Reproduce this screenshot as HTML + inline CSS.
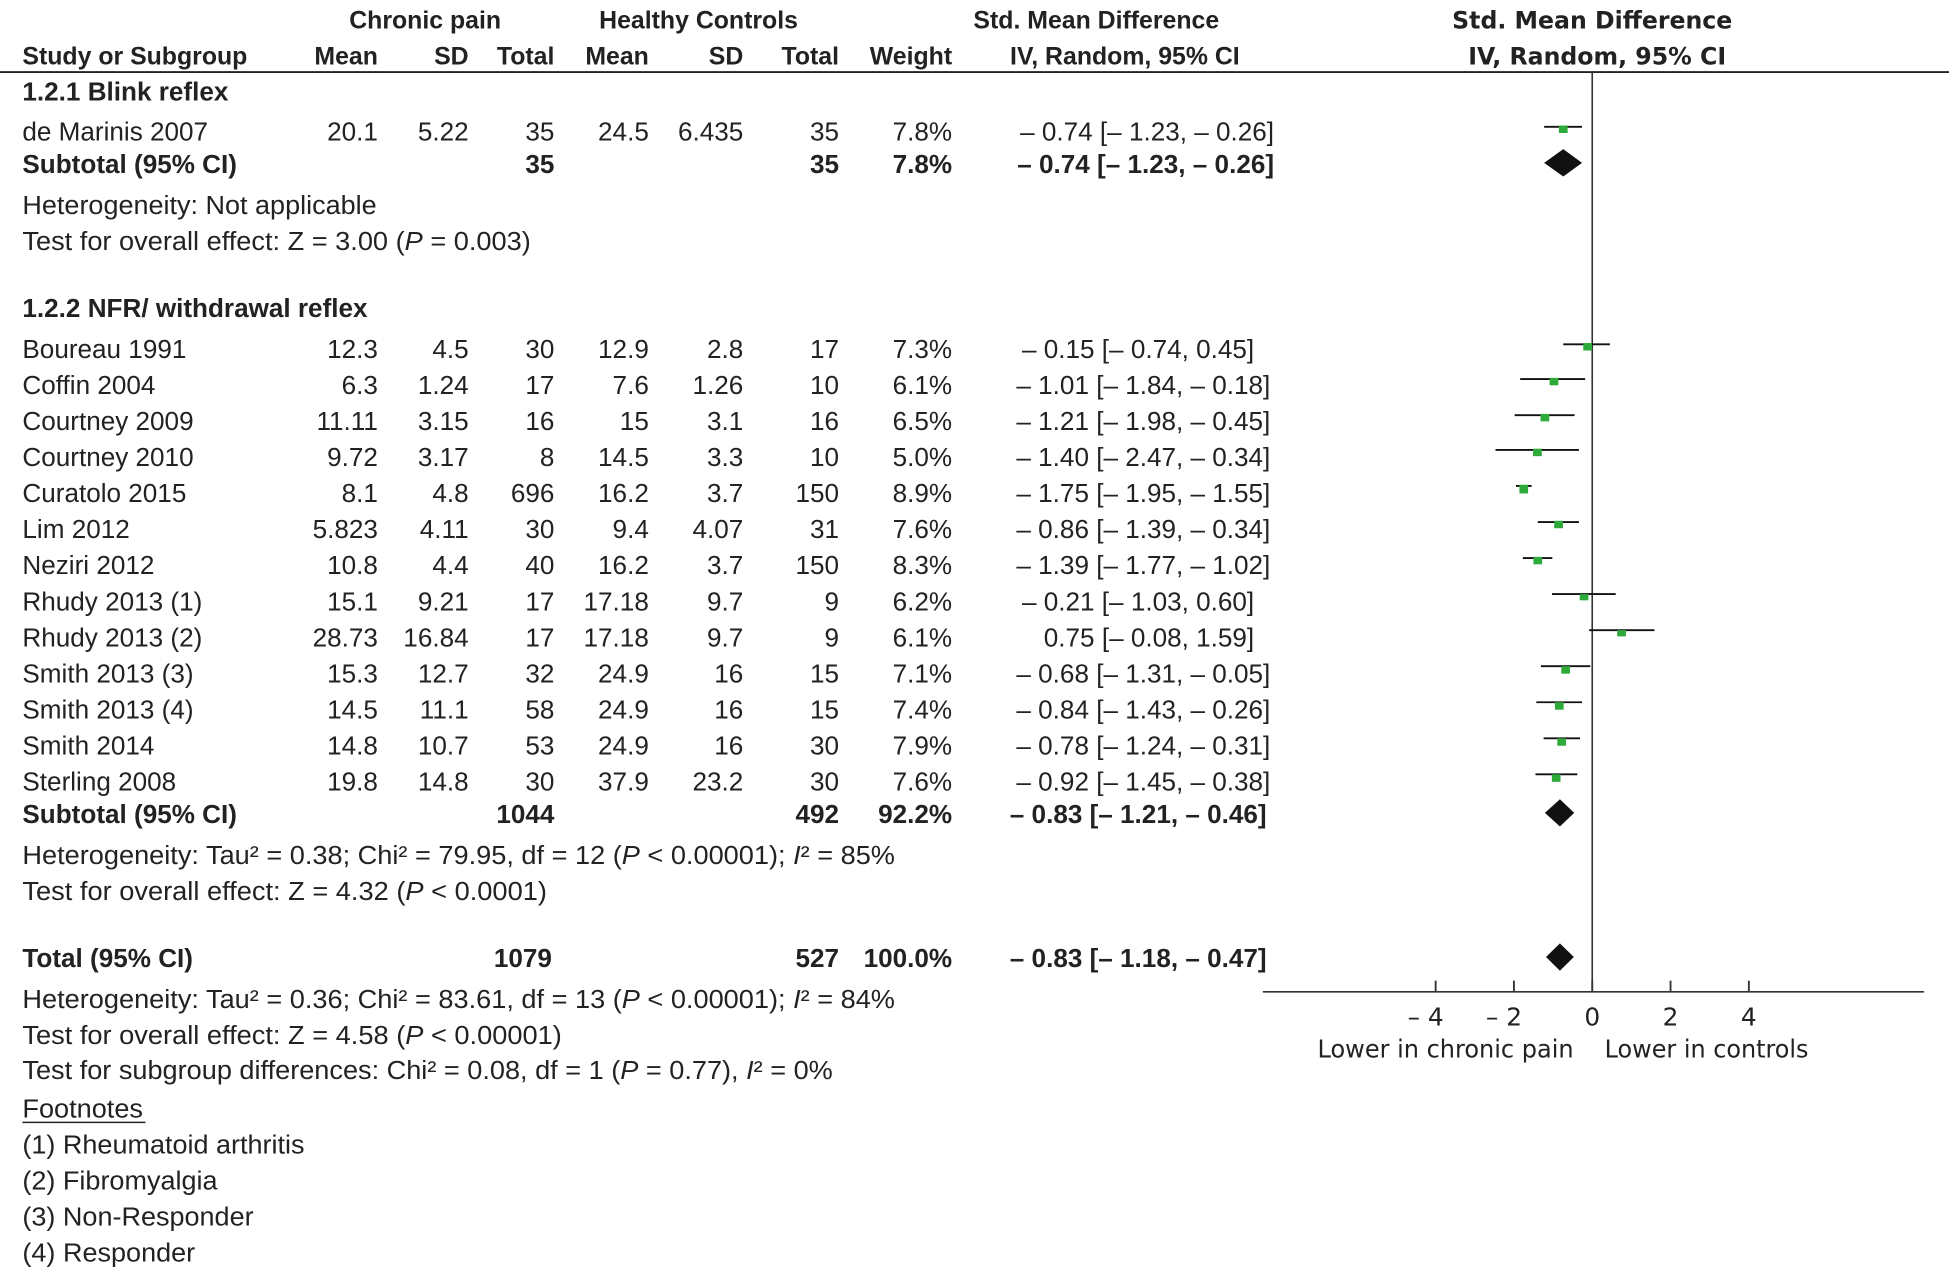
<!DOCTYPE html>
<html><head><meta charset="utf-8"><style>
html,body{margin:0;padding:0;background:#fff;}
svg{display:block;}
text{font-family:"Liberation Sans",sans-serif;fill:#222;}
.h{font-weight:bold;font-size:20px;}
.n{font-size:21px;}
.b{font-size:21px;font-weight:bold;}
.r{font-family:"DejaVu Sans","Liberation Sans",sans-serif;font-weight:bold;font-size:19px;}
.t{font-family:"DejaVu Sans","Liberation Sans",sans-serif;font-size:20px;}
</style></head><body>
<svg width="1949" height="1274" viewBox="0 0 1568 1025" xmlns="http://www.w3.org/2000/svg">
<g class="h">
<text x="342" y="23" text-anchor="middle" class="h">Chronic pain</text>
<text x="562" y="23" text-anchor="middle" class="h">Healthy Controls</text>
<text x="882" y="23" text-anchor="middle" class="h">Std. Mean Difference</text>
<text x="18" y="52" class="h">Study or Subgroup</text>
<text x="304" y="52" text-anchor="end" class="h">Mean</text>
<text x="377" y="52" text-anchor="end" class="h">SD</text>
<text x="446" y="52" text-anchor="end" class="h">Total</text>
<text x="522" y="52" text-anchor="end" class="h">Mean</text>
<text x="598" y="52" text-anchor="end" class="h">SD</text>
<text x="675" y="52" text-anchor="end" class="h">Total</text>
<text x="766" y="52" text-anchor="end" class="h">Weight</text>
<text x="905" y="52" text-anchor="middle" class="h">IV, Random, 95% CI</text>
</g>
<text x="1281" y="23" text-anchor="middle" class="r">Std. Mean Difference</text>
<text x="1285" y="52" text-anchor="middle" class="r">IV, Random, 95% CI</text>
<line x1="0" y1="58" x2="1568" y2="58" stroke="#222" stroke-width="1.5"/>

<text x="18" y="81" class="b">1.2.1 Blink reflex</text>
<g class="n">
<text x="18" y="113" class="n">de Marinis 2007</text>
<text x="304" y="113" text-anchor="end" class="n">20.1</text>
<text x="377" y="113" text-anchor="end" class="n">5.22</text>
<text x="446" y="113" text-anchor="end" class="n">35</text>
<text x="522" y="113" text-anchor="end" class="n">24.5</text>
<text x="598" y="113" text-anchor="end" class="n">6.435</text>
<text x="675" y="113" text-anchor="end" class="n">35</text>
<text x="766" y="113" text-anchor="end" class="n">7.8%</text>
<text x="1025" y="113" text-anchor="end" class="n">– 0.74 [– 1.23, – 0.26]</text>
</g>
<text x="18" y="139" class="b">Subtotal (95% CI)</text>
<text x="446" y="139" text-anchor="end" class="b">35</text>
<text x="675" y="139" text-anchor="end" class="b">35</text>
<text x="766" y="139" text-anchor="end" class="b">7.8%</text>
<text x="1025" y="139" text-anchor="end" class="b">– 0.74 [– 1.23, – 0.26]</text>
<text x="18" y="172" class="n" textLength="285" lengthAdjust="spacingAndGlyphs">Heterogeneity: Not applicable</text>
<text x="18" y="201" class="n" textLength="409" lengthAdjust="spacingAndGlyphs">Test for overall effect: Z = 3.00 (<tspan font-style="italic">P</tspan> = 0.003)</text>

<text x="18" y="255" class="b">1.2.2 NFR/ withdrawal reflex</text>

<g class="n">
<text x="18" y="288">Boureau 1991</text><text x="304" y="288" text-anchor="end">12.3</text><text x="377" y="288" text-anchor="end">4.5</text><text x="446" y="288" text-anchor="end">30</text><text x="522" y="288" text-anchor="end">12.9</text><text x="598" y="288" text-anchor="end">2.8</text><text x="675" y="288" text-anchor="end">17</text><text x="766" y="288" text-anchor="end">7.3%</text><text x="1009" y="288" text-anchor="end">– 0.15 [– 0.74, 0.45]</text>
<text x="18" y="317">Coffin 2004</text><text x="304" y="317" text-anchor="end">6.3</text><text x="377" y="317" text-anchor="end">1.24</text><text x="446" y="317" text-anchor="end">17</text><text x="522" y="317" text-anchor="end">7.6</text><text x="598" y="317" text-anchor="end">1.26</text><text x="675" y="317" text-anchor="end">10</text><text x="766" y="317" text-anchor="end">6.1%</text><text x="1022" y="317" text-anchor="end">– 1.01 [– 1.84, – 0.18]</text>
<text x="18" y="346">Courtney 2009</text><text x="304" y="346" text-anchor="end">11.11</text><text x="377" y="346" text-anchor="end">3.15</text><text x="446" y="346" text-anchor="end">16</text><text x="522" y="346" text-anchor="end">15</text><text x="598" y="346" text-anchor="end">3.1</text><text x="675" y="346" text-anchor="end">16</text><text x="766" y="346" text-anchor="end">6.5%</text><text x="1022" y="346" text-anchor="end">– 1.21 [– 1.98, – 0.45]</text>
<text x="18" y="375">Courtney 2010</text><text x="304" y="375" text-anchor="end">9.72</text><text x="377" y="375" text-anchor="end">3.17</text><text x="446" y="375" text-anchor="end">8</text><text x="522" y="375" text-anchor="end">14.5</text><text x="598" y="375" text-anchor="end">3.3</text><text x="675" y="375" text-anchor="end">10</text><text x="766" y="375" text-anchor="end">5.0%</text><text x="1022" y="375" text-anchor="end">– 1.40 [– 2.47, – 0.34]</text>
<text x="18" y="404">Curatolo 2015</text><text x="304" y="404" text-anchor="end">8.1</text><text x="377" y="404" text-anchor="end">4.8</text><text x="446" y="404" text-anchor="end">696</text><text x="522" y="404" text-anchor="end">16.2</text><text x="598" y="404" text-anchor="end">3.7</text><text x="675" y="404" text-anchor="end">150</text><text x="766" y="404" text-anchor="end">8.9%</text><text x="1022" y="404" text-anchor="end">– 1.75 [– 1.95, – 1.55]</text>
<text x="18" y="433">Lim 2012</text><text x="304" y="433" text-anchor="end">5.823</text><text x="377" y="433" text-anchor="end">4.11</text><text x="446" y="433" text-anchor="end">30</text><text x="522" y="433" text-anchor="end">9.4</text><text x="598" y="433" text-anchor="end">4.07</text><text x="675" y="433" text-anchor="end">31</text><text x="766" y="433" text-anchor="end">7.6%</text><text x="1022" y="433" text-anchor="end">– 0.86 [– 1.39, – 0.34]</text>
<text x="18" y="462">Neziri 2012</text><text x="304" y="462" text-anchor="end">10.8</text><text x="377" y="462" text-anchor="end">4.4</text><text x="446" y="462" text-anchor="end">40</text><text x="522" y="462" text-anchor="end">16.2</text><text x="598" y="462" text-anchor="end">3.7</text><text x="675" y="462" text-anchor="end">150</text><text x="766" y="462" text-anchor="end">8.3%</text><text x="1022" y="462" text-anchor="end">– 1.39 [– 1.77, – 1.02]</text>
<text x="18" y="491">Rhudy 2013 (1)</text><text x="304" y="491" text-anchor="end">15.1</text><text x="377" y="491" text-anchor="end">9.21</text><text x="446" y="491" text-anchor="end">17</text><text x="522" y="491" text-anchor="end">17.18</text><text x="598" y="491" text-anchor="end">9.7</text><text x="675" y="491" text-anchor="end">9</text><text x="766" y="491" text-anchor="end">6.2%</text><text x="1009" y="491" text-anchor="end">– 0.21 [– 1.03, 0.60]</text>
<text x="18" y="520">Rhudy 2013 (2)</text><text x="304" y="520" text-anchor="end">28.73</text><text x="377" y="520" text-anchor="end">16.84</text><text x="446" y="520" text-anchor="end">17</text><text x="522" y="520" text-anchor="end">17.18</text><text x="598" y="520" text-anchor="end">9.7</text><text x="675" y="520" text-anchor="end">9</text><text x="766" y="520" text-anchor="end">6.1%</text><text x="1009" y="520" text-anchor="end">0.75 [– 0.08, 1.59]</text>
<text x="18" y="549">Smith 2013 (3)</text><text x="304" y="549" text-anchor="end">15.3</text><text x="377" y="549" text-anchor="end">12.7</text><text x="446" y="549" text-anchor="end">32</text><text x="522" y="549" text-anchor="end">24.9</text><text x="598" y="549" text-anchor="end">16</text><text x="675" y="549" text-anchor="end">15</text><text x="766" y="549" text-anchor="end">7.1%</text><text x="1022" y="549" text-anchor="end">– 0.68 [– 1.31, – 0.05]</text>
<text x="18" y="578">Smith 2013 (4)</text><text x="304" y="578" text-anchor="end">14.5</text><text x="377" y="578" text-anchor="end">11.1</text><text x="446" y="578" text-anchor="end">58</text><text x="522" y="578" text-anchor="end">24.9</text><text x="598" y="578" text-anchor="end">16</text><text x="675" y="578" text-anchor="end">15</text><text x="766" y="578" text-anchor="end">7.4%</text><text x="1022" y="578" text-anchor="end">– 0.84 [– 1.43, – 0.26]</text>
<text x="18" y="607">Smith 2014</text><text x="304" y="607" text-anchor="end">14.8</text><text x="377" y="607" text-anchor="end">10.7</text><text x="446" y="607" text-anchor="end">53</text><text x="522" y="607" text-anchor="end">24.9</text><text x="598" y="607" text-anchor="end">16</text><text x="675" y="607" text-anchor="end">30</text><text x="766" y="607" text-anchor="end">7.9%</text><text x="1022" y="607" text-anchor="end">– 0.78 [– 1.24, – 0.31]</text>
<text x="18" y="636">Sterling 2008</text><text x="304" y="636" text-anchor="end">19.8</text><text x="377" y="636" text-anchor="end">14.8</text><text x="446" y="636" text-anchor="end">30</text><text x="522" y="636" text-anchor="end">37.9</text><text x="598" y="636" text-anchor="end">23.2</text><text x="675" y="636" text-anchor="end">30</text><text x="766" y="636" text-anchor="end">7.6%</text><text x="1022" y="636" text-anchor="end">– 0.92 [– 1.45, – 0.38]</text>
</g>
<g class="b">
<text x="18" y="662">Subtotal (95% CI)</text><text x="446" y="662" text-anchor="end">1044</text><text x="675" y="662" text-anchor="end">492</text><text x="766" y="662" text-anchor="end">92.2%</text><text x="1019" y="662" text-anchor="end">– 0.83 [– 1.21, – 0.46]</text>
</g>
<text x="18" y="695" class="n" textLength="702" lengthAdjust="spacingAndGlyphs">Heterogeneity: Tau² = 0.38; Chi² = 79.95, df = 12 (<tspan font-style="italic">P</tspan> &lt; 0.00001); <tspan font-style="italic">I</tspan>² = 85%</text>
<text x="18" y="724" class="n" textLength="422" lengthAdjust="spacingAndGlyphs">Test for overall effect: Z = 4.32 (<tspan font-style="italic">P</tspan> &lt; 0.0001)</text>
<g class="b">
<text x="18" y="778">Total (95% CI)</text><text x="444" y="778" text-anchor="end">1079</text><text x="675" y="778" text-anchor="end">527</text><text x="766" y="778" text-anchor="end">100.0%</text><text x="1019" y="778" text-anchor="end">– 0.83 [– 1.18, – 0.47]</text>
</g>
<text x="18" y="811" class="n" textLength="702" lengthAdjust="spacingAndGlyphs">Heterogeneity: Tau² = 0.36; Chi² = 83.61, df = 13 (<tspan font-style="italic">P</tspan> &lt; 0.00001); <tspan font-style="italic">I</tspan>² = 84%</text>
<text x="18" y="840" class="n" textLength="434" lengthAdjust="spacingAndGlyphs">Test for overall effect: Z = 4.58 (<tspan font-style="italic">P</tspan> &lt; 0.00001)</text>
<text x="18" y="868" class="n" textLength="652" lengthAdjust="spacingAndGlyphs">Test for subgroup differences: Chi² = 0.08, df = 1 (<tspan font-style="italic">P</tspan> = 0.77), <tspan font-style="italic">I</tspan>² = 0%</text>
<text x="18" y="899" class="n" textLength="97" lengthAdjust="spacingAndGlyphs">Footnotes</text>
<line x1="18" y1="903" x2="117" y2="903" stroke="#222" stroke-width="1.2"/>
<text x="18" y="928" class="n" textLength="227" lengthAdjust="spacingAndGlyphs">(1) Rheumatoid arthritis</text>
<text x="18" y="957" class="n" textLength="157" lengthAdjust="spacingAndGlyphs">(2) Fibromyalgia</text>
<text x="18" y="986" class="n" textLength="186" lengthAdjust="spacingAndGlyphs">(3) Non-Responder</text>
<text x="18" y="1015" class="n" textLength="139" lengthAdjust="spacingAndGlyphs">(4) Responder</text>

<line x1="1281" y1="58" x2="1281" y2="798" stroke="#333" stroke-width="1.3"/>
<line x1="1016" y1="798" x2="1548" y2="798" stroke="#333" stroke-width="1.3"/>
<g stroke="#333" stroke-width="1.5">
<line x1="1155" y1="789" x2="1155" y2="798"/><line x1="1218" y1="789" x2="1218" y2="798"/><line x1="1281" y1="789" x2="1281" y2="798"/><line x1="1344" y1="789" x2="1344" y2="798"/><line x1="1407" y1="789" x2="1407" y2="798"/>
</g>
<text x="1147" y="825" text-anchor="middle" class="t">– 4</text>
<text x="1210" y="825" text-anchor="middle" class="t">– 2</text>
<text x="1281" y="825" text-anchor="middle" class="t">0</text>
<text x="1344" y="825" text-anchor="middle" class="t">2</text>
<text x="1407" y="825" text-anchor="middle" class="t">4</text>
<text x="1163" y="851" text-anchor="middle" class="t" textLength="206" lengthAdjust="spacingAndGlyphs">Lower in chronic pain</text>
<text x="1373" y="851" text-anchor="middle" class="t" textLength="164" lengthAdjust="spacingAndGlyphs">Lower in controls</text>
<g stroke="#111" stroke-width="1.5">
<line x1="1242.3" y1="102" x2="1272.8" y2="102"/>
<line x1="1257.7" y1="277" x2="1295.2" y2="277"/>
<line x1="1223.0" y1="305" x2="1275.3" y2="305"/>
<line x1="1218.6" y1="334" x2="1266.8" y2="334"/>
<line x1="1203.2" y1="362" x2="1270.3" y2="362"/>
<line x1="1219.6" y1="391" x2="1232.2" y2="391"/>
<line x1="1237.2" y1="420" x2="1270.3" y2="420"/>
<line x1="1225.2" y1="449" x2="1248.9" y2="449"/>
<line x1="1248.6" y1="478" x2="1299.9" y2="478"/>
<line x1="1278.5" y1="507" x2="1331.1" y2="507"/>
<line x1="1239.7" y1="536" x2="1279.4" y2="536"/>
<line x1="1236.0" y1="565" x2="1272.8" y2="565"/>
<line x1="1241.9" y1="594" x2="1271.2" y2="594"/>
<line x1="1235.3" y1="623" x2="1269.0" y2="623"/>
</g>
<g fill="#2eaa3a">
<rect x="1254.2" y="101" width="7" height="6"/>
<rect x="1273.8" y="276" width="7" height="6"/>
<rect x="1246.7" y="304" width="7" height="6"/>
<rect x="1239.4" y="333" width="7" height="6"/>
<rect x="1233.4" y="361" width="7" height="6"/>
<rect x="1222.4" y="390" width="7" height="7"/>
<rect x="1250.4" y="419" width="7" height="6"/>
<rect x="1233.7" y="448" width="7" height="6"/>
<rect x="1270.9" y="478" width="7" height="5"/>
<rect x="1301.1" y="507" width="7" height="5"/>
<rect x="1256.1" y="536" width="7" height="6"/>
<rect x="1251.0" y="565" width="7" height="6"/>
<rect x="1252.9" y="594" width="7" height="6"/>
<rect x="1248.5" y="623" width="7" height="6"/>
</g>
<g fill="#111">
<polygon points="1242.3,131 1257.7,120 1272.8,131 1257.7,142"/>
<polygon points="1242.9,654 1255,643 1266.5,654 1255,665"/>
<polygon points="1243.8,770 1255,759 1266.2,770 1255,781"/>
</g>
</svg>
</body></html>
